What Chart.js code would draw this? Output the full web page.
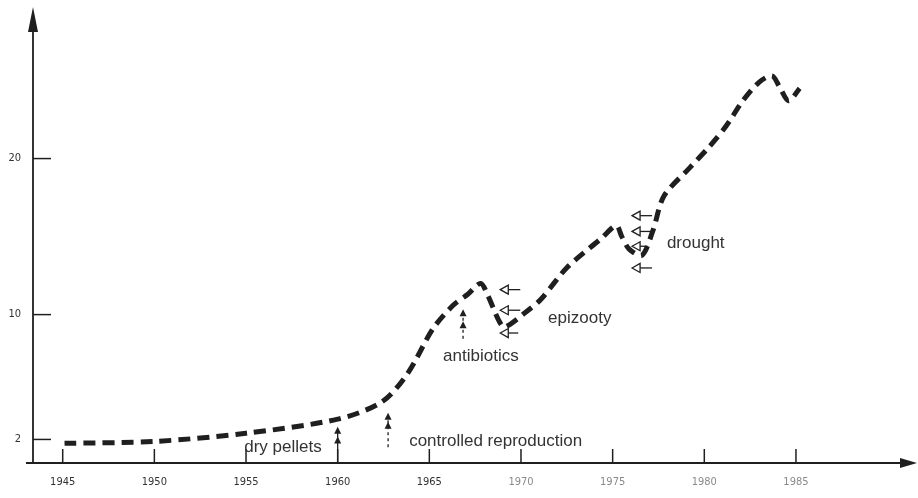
<!DOCTYPE html>
<html>
<head>
<meta charset="utf-8">
<title>Producción</title>
<script src="https://cdn.jsdelivr.net/npm/chart.js@4.4.0/dist/chart.umd.min.js"></script>
<style>
  html, body { margin: 0; padding: 0; background: #fff; }
  #contenedor { width: 918px; height: 498px; }
</style>
</head>
<body>
<div id="contenedor"><canvas id="grafico"></canvas></div>
<script>
// Datos (año / valor)
const years = [1945.1, 1950, 1955, 1960, 1962.4, 1963.8, 1965.2, 1966.3, 1967.1, 1967.8,
    1968.2, 1968.8, 1969.1, 1970.2, 1971.1, 1972.5, 1974.4, 1975.2, 1975.5, 1975.9, 1976.6, 1977.2,
    1977.8, 1979.2, 1980.3, 1981.2, 1982.1, 1983.0, 1983.7, 1984.1, 1984.6, 1985.2];
const values = [1.75, 1.87, 2.4, 3.3, 4.4, 6.2, 9.1, 10.6, 11.3, 12.0,
    11.2, 9.6, 9.2, 10.1, 11.0, 13.0, 14.9, 15.7, 15.0, 14.2, 13.8, 15.4,
    17.6, 19.4, 20.8, 22.1, 23.7, 24.9, 25.3, 24.6, 23.7, 24.5];

// Marcas de los ejes
const xTicks = [1945, 1950, 1955, 1960, 1965, 1970, 1975, 1980, 1985];
const yTicks = [2, 10, 20];

// Textos de la gráfica (borde izquierdo en años, centro en valor)
const notes = [
    { text: "dry pellets", x: 1954.9, y: 1.5 },
    { text: "controlled reproduction", x: 1963.9, y: 1.88 },
    { text: "antibiotics", x: 1965.75, y: 7.31 },
    { text: "epizooty", x: 1971.48, y: 9.77 },
    { text: "drought", x: 1977.96, y: 14.56 }
];

// Flechas verticales con doble punta
const upArrows = [
    { x: 1960, from: 0.49, tips: [2.82, 2.19], dotted: false },
    { x: 1962.75, from: 1.5, tips: [3.71, 3.14], dotted: true },
    { x: 1966.84, from: 8.45, tips: [10.34, 9.58], dotted: true }
];

// Flechas huecas hacia la izquierda (punta, cola, valor)
const leftArrows = [
    { tip: 1968.87, tail: 1969.96, y: 11.6 },
    { tip: 1968.87, tail: 1969.96, y: 10.28 },
    { tip: 1968.87, tail: 1969.85, y: 8.82 },
    { tip: 1976.06, tail: 1977.15, y: 16.34 },
    { tip: 1976.06, tail: 1977.15, y: 15.33 },
    { tip: 1976.06, tail: 1976.9, y: 14.38 },
    { tip: 1976.06, tail: 1977.15, y: 12.99 }
];

const INK = "#1f1f1f";

// Dibuja ejes con flechas, marcas y anotaciones
const anotaciones = {
    id: 'anotaciones',
    afterDraw(chart) {
        const { ctx, chartArea, scales: { x, y } } = chart;
        const left = chartArea.left, bottom = chartArea.bottom;
        ctx.save();
        ctx.strokeStyle = INK;
        ctx.fillStyle = INK;
        ctx.lineWidth = 1.8;

        // eje Y
        ctx.beginPath();
        ctx.moveTo(left, bottom);
        ctx.lineTo(left, 20);
        ctx.stroke();
        ctx.beginPath();
        ctx.moveTo(left, 7);
        ctx.lineTo(left - 5, 32);
        ctx.lineTo(left + 5, 32);
        ctx.closePath();
        ctx.fill();

        // eje X
        ctx.beginPath();
        ctx.moveTo(left - 7, bottom);
        ctx.lineTo(chart.width - 12, bottom);
        ctx.stroke();
        ctx.beginPath();
        ctx.moveTo(chart.width - 1, bottom);
        ctx.lineTo(chart.width - 18, bottom - 5);
        ctx.lineTo(chart.width - 18, bottom + 5);
        ctx.closePath();
        ctx.fill();

        // marcas hacia dentro
        ctx.lineWidth = 1.5;
        xTicks.forEach(v => {
            const px = x.getPixelForValue(v);
            ctx.beginPath();
            ctx.moveTo(px, bottom);
            ctx.lineTo(px, bottom - 14);
            ctx.stroke();
        });
        yTicks.forEach(v => {
            const py = y.getPixelForValue(v);
            ctx.beginPath();
            ctx.moveTo(left, py);
            ctx.lineTo(left + 18, py);
            ctx.stroke();
        });

        // flechas verticales
        upArrows.forEach(a => {
            const px = x.getPixelForValue(a.x);
            const top = y.getPixelForValue(a.tips[0]);
            ctx.lineWidth = 1.3;
            ctx.setLineDash(a.dotted ? [3, 3] : []);
            ctx.beginPath();
            ctx.moveTo(px, y.getPixelForValue(a.from));
            ctx.lineTo(px, top + 4);
            ctx.stroke();
            ctx.setLineDash([]);
            a.tips.forEach(t => {
                const py = y.getPixelForValue(t);
                ctx.beginPath();
                ctx.moveTo(px, py);
                ctx.lineTo(px - 3.5, py + 7);
                ctx.lineTo(px + 3.5, py + 7);
                ctx.closePath();
                ctx.fill();
            });
        });

        // flechas huecas
        ctx.lineWidth = 1.3;
        leftArrows.forEach(a => {
            const tx = x.getPixelForValue(a.tip);
            const ex = x.getPixelForValue(a.tail);
            const py = y.getPixelForValue(a.y);
            ctx.beginPath();
            ctx.moveTo(tx, py);
            ctx.lineTo(tx + 8, py - 4.5);
            ctx.lineTo(tx + 8, py + 4.5);
            ctx.closePath();
            ctx.stroke();
            ctx.beginPath();
            ctx.moveTo(tx + 8, py);
            ctx.lineTo(ex, py);
            ctx.stroke();
        });

        // textos
        ctx.fillStyle = "#333";
        ctx.font = "17px 'Liberation Sans', Arial, sans-serif";
        ctx.textBaseline = "middle";
        ctx.textAlign = "left";
        notes.forEach(n => {
            ctx.fillText(n.text, x.getPixelForValue(n.x), y.getPixelForValue(n.y));
        });
        ctx.restore();
    }
};

const ctx = document.getElementById("grafico").getContext("2d");
const chart = new Chart(ctx, {
    type: 'line',
    data: {
        datasets: [{
            label: "producción",
            data: years.map((yr, i) => ({ x: yr, y: values[i] })),
            borderColor: INK,
            borderWidth: 5,
            borderDash: [12, 7],
            borderCapStyle: 'butt',
            tension: 0.3,
            pointRadius: 0,
            fill: false
        }]
    },
    options: {
        responsive: true,
        maintainAspectRatio: false,
        animation: false,
        layout: { padding: { top: 12, right: 6, left: 0, bottom: 0 } },
        plugins: {
            legend: { display: false },
            tooltip: { enabled: false }
        },
        scales: {
            x: {
                type: 'linear',
                min: 1943.38,
                max: 1991.33,
                grid: { display: false, drawTicks: false },
                border: { display: false },
                afterBuildTicks: scale => { scale.ticks = xTicks.map(v => ({ value: v })); },
                afterFit: scale => { scale.height = 35; },
                ticks: {
                    padding: 13,
                    maxRotation: 0,
                    autoSkip: false,
                    callback: v => String(v),
                    color: c => c.tick && c.tick.value >= 1970 ? "#8a8a8a" : "#333",
                    font: { family: "'DejaVu Sans Condensed', 'DejaVu Sans', sans-serif", size: 11 }
                }
            },
            y: {
                type: 'linear',
                min: 0.49,
                max: 28.97,
                grid: { display: false, drawTicks: false },
                border: { display: false },
                afterBuildTicks: scale => { scale.ticks = yTicks.map(v => ({ value: v })); },
                afterFit: scale => { scale.width = 33; },
                ticks: {
                    padding: 12,
                    color: "#333",
                    font: { family: "'DejaVu Sans Condensed', 'DejaVu Sans', sans-serif", size: 11 }
                }
            }
        }
    },
    plugins: [anotaciones]
});
</script>
</body>
</html>
